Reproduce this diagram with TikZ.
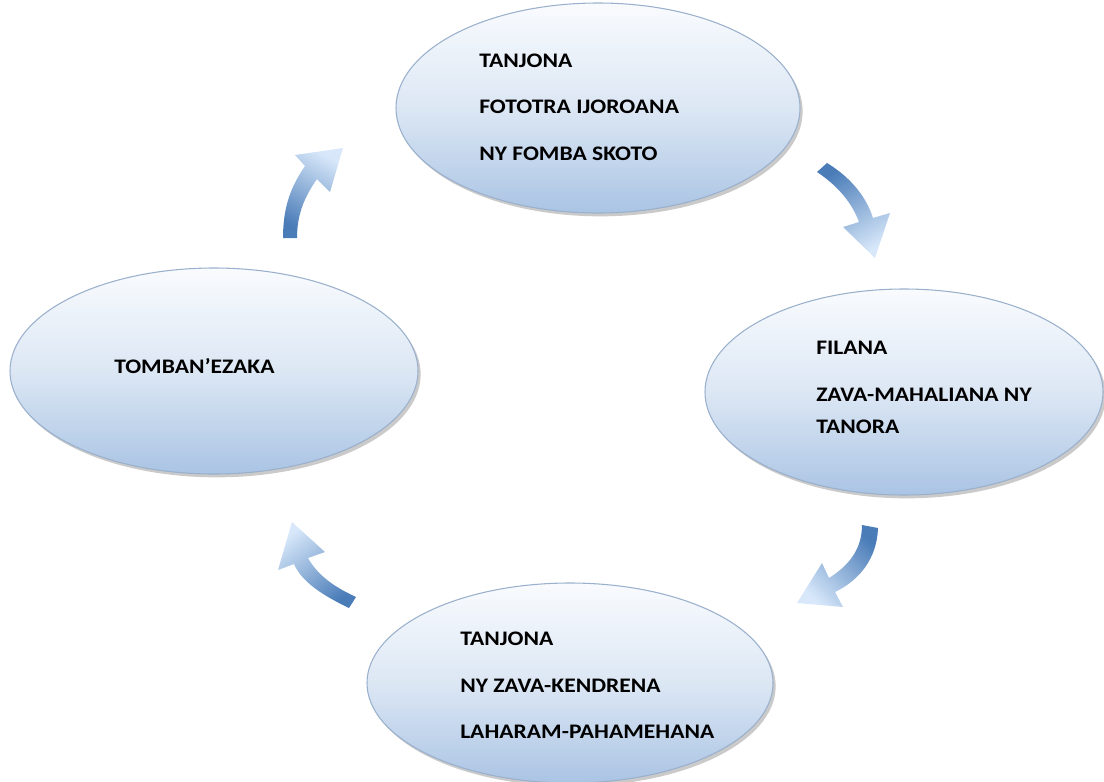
\documentclass[tikz,border=0pt]{standalone}
\usepackage{fontspec}
\setmainfont{Carlito}[FakeStretch=1.14]
\usetikzlibrary{shapes.geometric,shadows}
\definecolor{ellTop}{HTML}{F9FBFE}
\definecolor{ellMid}{HTML}{DCE7F4}
\definecolor{ellBot}{HTML}{AAC4E4}
\definecolor{ellLine}{HTML}{9AB0CC}
\definecolor{arrDark}{HTML}{4A7CB8}
\definecolor{arrLight}{HTML}{D8E8FA}
\begin{document}
\begin{tikzpicture}[x=0.75pt,y=-0.75pt,
  blob/.style={ellipse, draw=ellLine, line width=0.8pt, top color=ellTop, bottom color=ellBot, middle color=ellMid, inner sep=0pt,
    drop shadow={shadow xshift=2pt, shadow yshift=-2.5pt, opacity=0.35, fill=black!60}},
  lbl/.style={anchor=base west, inner sep=0pt, font=\fontsize{15.5}{18}\selectfont\bfseries, text=black}]
\useasboundingbox (0,0) rectangle (1104,782);
% ellipses
\node[blob, minimum width=303pt, minimum height=157.5pt] (top) at (598,108) {};
\node[blob, minimum width=298.5pt, minimum height=154.5pt] (right) at (904,392) {};
\node[blob, minimum width=304.5pt, minimum height=150pt] (bottom) at (570,683) {};
\node[blob, minimum width=306pt, minimum height=154.5pt] (left) at (214,371) {};
% texts
\node[lbl] (t1) at (479,67) {TANJONA};
\node[lbl] (t2) at (479,113.5) {FOTOTRA IJOROANA};
\node[lbl] (t3) at (479,160) {NY FOMBA SKOTO};
\node[lbl] (r1) at (816,354) {FILANA};
\node[lbl] (r2) at (816,401) {ZAVA-MAHALIANA NY};
\node[lbl] (r3) at (816,433) {TANORA};
\node[lbl] (b1) at (460,645) {TANJONA};
\node[lbl] (b2) at (460,692) {NY ZAVA-KENDRENA};
\node[lbl] (b3) at (460,738) {LAHARAM-PAHAMEHANA};
\node[lbl] (l1) at (114,373) {TOMBAN’EZAKA};
% curved arrows
\shade[top color=arrLight, bottom color=arrDark, shading angle=-30]
  (283,238) .. controls (283,205) and (292,185) .. (305,166) -- (295,155) -- (343,148) -- (330,192) -- (317,179)
  .. controls (306,195) and (297,212) .. (297,238) -- cycle;
\shade[top color=arrDark, bottom color=arrLight, shading angle=30]
  (817,172) .. controls (838,186) and (852,203) .. (859,222) -- (843,227) -- (875,258) -- (890,213) -- (873,218)
  .. controls (866,196) and (850,177) .. (827,163) -- cycle;
\shade[top color=arrDark, bottom color=arrLight, shading angle=-45]
  (862,525) .. controls (862,550) and (848,566) .. (829,578) -- (822,563) -- (797,603) -- (843,607) -- (835,592)
  .. controls (860,580) and (877,558) .. (878,528) -- cycle;
\shade[top color=arrLight, bottom color=arrDark, shading angle=37]
  (349,608) .. controls (322,595) and (302,582) .. (294,564) -- (278,570) -- (292,522) -- (325,552) -- (308,558)
  .. controls (317,574) and (332,586) .. (356,597) -- cycle;
\end{tikzpicture}
\end{document}
